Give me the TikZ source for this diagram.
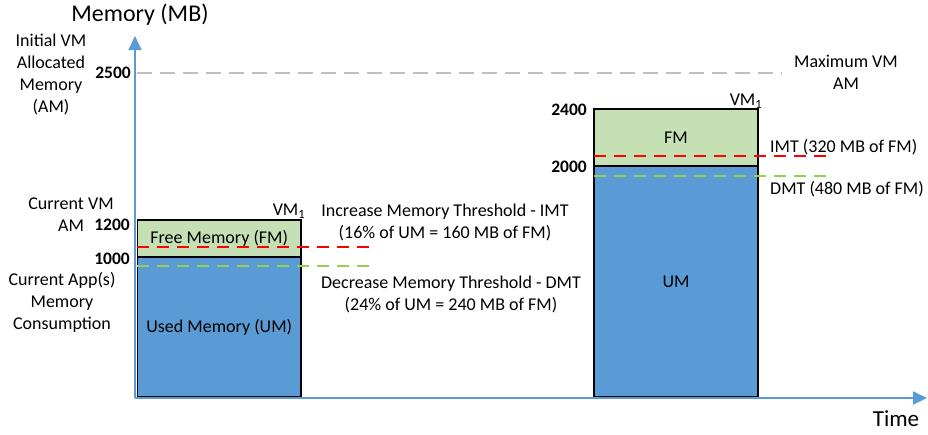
\documentclass[tikz,border=0pt]{standalone}
\usepackage{fontspec}
\setmainfont{Carlito}
\usetikzlibrary{arrows.meta}
\definecolor{umblue}{HTML}{5B9BD5}
\definecolor{fmgreen}{HTML}{C5E0B4}
\definecolor{dmtgreen}{HTML}{92D050}
\definecolor{amgrey}{HTML}{C0C0C0}

\begin{document}
\begin{tikzpicture}[x=1pt, y=-1pt,
  lbl/.style = {font=\fontsize{18}{22}\selectfont, align=center, inner sep=0pt},
  num/.style = {font=\fontsize{17.5}{20}\selectfont\bfseries, anchor=east, inner sep=0pt},
  fm/.style = {draw=black, fill=fmgreen, line width=1.3pt, inner sep=0pt, font=\fontsize{18}{22}\selectfont},
  um/.style = {draw=black, fill=umblue, line width=1.3pt, inner sep=0pt, font=\fontsize{18}{22}\selectfont},
  imt/.style = {draw=red, line width=1.8pt, dash pattern=on 12pt off 8pt},
  dmt/.style = {draw=dmtgreen, line width=1.8pt, dash pattern=on 12pt off 8pt},
  maxam/.style = {draw=amgrey, line width=1.6pt, dash pattern=on 15pt off 8pt},
  axis/.style = {draw=umblue, line width=1.8pt, -{Triangle[length=14pt,width=13pt]}}]
\useasboundingbox (0,0) rectangle (928,434);

% axes
\coordinate (o) at (135,398);
\coordinate (ytip) at (135,36);
\coordinate (xtip) at (927,398);
\node[lbl, font=\fontsize{24}{28}\selectfont] (mem) at (140,15) {Memory (MB)};
\node[lbl, font=\fontsize{23}{28}\selectfont] (time) at (896,419) {Time};

% max allocated memory
\coordinate (amL) at (137,73);
\coordinate (amR) at (782,73);
\draw[maxam] (amL) -- (amR);

% VM at 1200 MB
\node[um, minimum width=163.5pt, minimum height=140pt] (umL) at (219.25,327) {Used Memory (UM)};
\node[fm, minimum width=163.5pt, minimum height=37pt] (fmL) at (219.25,238.5) {Free Memory (FM)};
\coordinate (imtL) at (137,247);
\coordinate (imtLe) at (370,247);
\coordinate (dmtL) at (137,266);
\coordinate (dmtLe) at (370,266);
\draw[imt] (imtL) -- (imtLe);
\draw[dmt] (dmtL) -- (dmtLe);
\node[lbl] (vmL) at (289,211) {VM\textsubscript{1}};

% VM at 2400 MB
\node[um, minimum width=164pt, minimum height=231pt] (umR) at (676,281.5) {UM};
\node[fm, minimum width=164pt, minimum height=57pt] (fmR) at (676,137.5) {FM};
\coordinate (imtR) at (594,156);
\coordinate (imtRe) at (827,156);
\coordinate (dmtR) at (594,176);
\coordinate (dmtRe) at (827,176);
\draw[imt] (imtR) -- (imtRe);
\draw[dmt] (dmtR) -- (dmtRe);
\node[lbl] (vmR) at (746,101) {VM\textsubscript{1}};

\draw[axis] (o) -- (ytip);
\draw[axis] (o) -- (xtip);

% values
\node[num] (n2500) at (131,73) {2500};
\node[num] (n1200) at (130,225) {1200};
\node[num] (n1000) at (130,259) {1000};
\node[num] (n2400) at (587,110) {2400};
\node[num] (n2000) at (587,167) {2000};

% labels
\node[lbl] (initam) at (51,74) {Initial VM\\Allocated\\Memory\\(AM)};
\node[lbl] (curam) at (71,215) {Current VM\\AM};
\node[lbl] (curapp) at (62,302) {Current App(s)\\Memory\\Consumption};
\node[lbl] (imttxt) at (445,222) {Increase Memory Threshold - IMT\\(16\% of UM = 160 MB of FM)};
\node[lbl] (dmttxt) at (451,294) {Decrease Memory Threshold - DMT\\(24\% of UM = 240 MB of FM)};
\node[lbl] (maxtxt) at (846,72) {Maximum VM\\AM};
\node[lbl, anchor=west] (imtRtxt) at (770,147) {IMT (320 MB of FM)};
\node[lbl, anchor=west] (dmtRtxt) at (770,189) {DMT (480 MB of FM)};
\end{tikzpicture}
\end{document}
